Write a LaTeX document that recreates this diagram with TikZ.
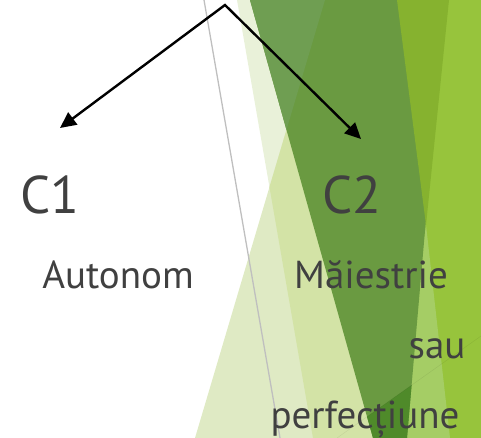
\documentclass[tikz,border=0pt]{standalone}
\usepackage{fontspec}
\setmainfont{PT Sans}
\usetikzlibrary{arrows.meta}
\definecolor{metin}{HTML}{404040}
\definecolor{acik}{HTML}{E9F1D9}
\definecolor{acikb}{HTML}{DFEAC4}
\definecolor{acikc}{HTML}{D3E3A6}
\definecolor{koyu}{HTML}{6A9A41}
\definecolor{koyub}{HTML}{6F9E52}
\definecolor{koyuc}{HTML}{4F8A2A}
\definecolor{zeytin}{HTML}{86B22F}
\definecolor{parlak}{HTML}{97C43C}
\definecolor{serit}{HTML}{A5CD65}
\definecolor{gri}{HTML}{BFBFBF}
\begin{document}
\begin{tikzpicture}[x=1pt, y=-1pt,
  etiket/.style={text=metin, anchor=base, inner sep=0pt},
  buyuk/.style={etiket, font=\fontsize{53}{60}\selectfont},
  kucuk/.style={etiket, font=\fontsize{39}{44}\selectfont},
  ok/.style={line width=2.4pt, {Triangle[length=16pt,width=15pt]}-{Triangle[length=16pt,width=15pt]}}]
  \useasboundingbox (0,0) rectangle (481,438);
  \clip (0,0) rectangle (481,438);
  % arka plan: acik yesil seritler
  \fill[acik] (237,0) -- (481,0) -- (481,438) -- (313,438) -- cycle;
  \fill[acikb] (325,0) -- (481,0) -- (481,438) -- (195,438) -- cycle;
  \begin{scope}
    \clip (237,0) -- (481,0) -- (481,438) -- (313,438) -- cycle;
    \fill[acikc] (325,0) -- (481,0) -- (481,438) -- (195,438) -- cycle;
  \end{scope}
  % sag taraf: parlak yesil ve serit
  \fill[parlak] (420,0) -- (481,0) -- (481,438) -- (390,438) -- cycle;
  \fill[serit] (426,225) -- (450,438) -- (395,438) -- cycle;
  % koyu yesil ucgen
  \fill[koyu] (250,0) -- (445,0) -- (407,438) -- (373,438) -- cycle;
  \begin{scope}
    \clip (250,0) -- (445,0) -- (407,438) -- (373,438) -- cycle;
    \fill[koyub] (0,0) -- (325,0) -- (195,438) -- (0,438) -- cycle;
    \fill[koyuc] (337,438) -- (481,336) -- (481,438) -- cycle;
  \end{scope}
  \fill[zeytin] (397,0) -- (449,0) -- (426,225) -- cycle;
  \draw[black, opacity=0.08] (337,438) -- (481,336);
  % gri cizgi
  \draw[gri, line width=1.3pt] (204,0) -- (280,438);
  % oklar: tepe -> C1, C2
  \coordinate (tepe) at (225,5);
  \coordinate (uc1) at (60,128);
  \coordinate (uc2) at (361,139);
  \draw[ok] (uc1) -- (tepe) -- (uc2);
  % etiketler
  \node[buyuk] (c1) at (50,213) {C1};
  \node[buyuk] (c2) at (352,213) {C2};
  \node[kucuk] (autonom) at (118,288) {Autonom};
  \node[kucuk] (maiestrie) at (371,288) {Măiestrie};
  \node[kucuk] (sau) at (437,358) {sau};
  \node[kucuk] (perfectiune) at (365,428) {perfecțiune};
\end{tikzpicture}
\end{document}
